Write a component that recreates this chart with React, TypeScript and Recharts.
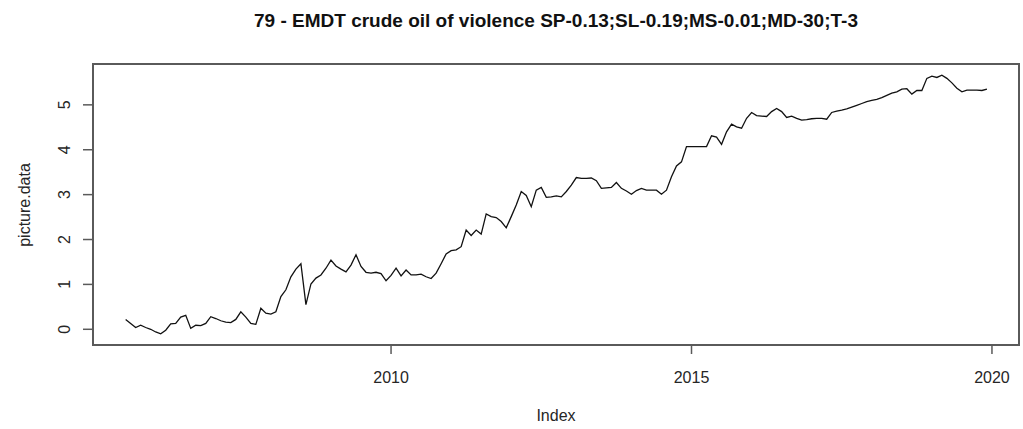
import { Line, LineChart, ReferenceArea, XAxis, YAxis } from "recharts";

// monthly values, series starts Aug 2005
const START_YEAR = 2005;
const START_MONTH = 8;

const v2005 = [0.22, 0.13, 0.04, 0.09, 0.04];
const v2006 = [0.0, -0.06, -0.1, -0.02, 0.12, 0.13, 0.27, 0.31, 0.02, 0.09, 0.08, 0.13];
const v2007 = [0.28, 0.24, 0.19, 0.16, 0.15, 0.22, 0.39, 0.27, 0.13, 0.11, 0.47, 0.36];
const v2008 = [0.34, 0.39, 0.73, 0.88, 1.17, 1.34, 1.46, 0.55, 1.01, 1.14, 1.21, 1.36];
const v2009 = [1.54, 1.41, 1.34, 1.28, 1.43, 1.66, 1.4, 1.27, 1.25, 1.27, 1.24, 1.08];
const v2010 = [1.2, 1.36, 1.19, 1.32, 1.21, 1.21, 1.23, 1.17, 1.13, 1.25, 1.46, 1.68];
const v2011 = [1.75, 1.77, 1.84, 2.21, 2.09, 2.21, 2.12, 2.57, 2.51, 2.49, 2.4, 2.26];
const v2012 = [2.51, 2.77, 3.07, 2.98, 2.73, 3.1, 3.16, 2.94, 2.95, 2.97, 2.95, 3.07];
const v2013 = [3.21, 3.38, 3.36, 3.36, 3.37, 3.31, 3.14, 3.15, 3.16, 3.27, 3.14, 3.08];
const v2014 = [3.01, 3.09, 3.14, 3.1, 3.1, 3.1, 3.01, 3.1, 3.4, 3.64, 3.73, 4.07];
const v2015 = [4.07, 4.07, 4.07, 4.07, 4.31, 4.28, 4.12, 4.4, 4.57, 4.51, 4.48, 4.7];
const v2016 = [4.83, 4.76, 4.75, 4.74, 4.85, 4.92, 4.85, 4.72, 4.75, 4.7, 4.66, 4.67];
const v2017 = [4.69, 4.7, 4.7, 4.68, 4.83, 4.86, 4.88, 4.91, 4.95, 4.99, 5.03, 5.07];
const v2018 = [5.1, 5.12, 5.16, 5.21, 5.26, 5.29, 5.35, 5.36, 5.24, 5.32, 5.32, 5.59];
const v2019 = [5.64, 5.61, 5.66, 5.59, 5.49, 5.37, 5.29, 5.33, 5.33, 5.33, 5.32, 5.35];

const xTicks = [2010, 2015, 2020];
const yTicks = [0, 1, 2, 3, 4, 5];

const TITLE = "79 - EMDT crude oil of violence SP-0.13;SL-0.19;MS-0.01;MD-30;T-3";
const X_LABEL = "Index";
const Y_LABEL = "picture.data";

const values = [
  ...v2005, ...v2006, ...v2007, ...v2008, ...v2009, ...v2010, ...v2011, ...v2012,
  ...v2013, ...v2014, ...v2015, ...v2016, ...v2017, ...v2018, ...v2019,
];

const data = values.map((value, i) => ({
  t: START_YEAR + (START_MONTH - 1 + i) / 12,
  value,
}));

const X_DOMAIN: [number, number] = [2005.04, 2020.45];
const Y_DOMAIN: [number, number] = [-0.35, 5.91];

const FONT = "'Liberation Sans', Arial, sans-serif";
const TEXT = "#262626";
const BOX = "#5a5a5a";

function XTick({ x, y, payload }: { x?: number; y?: number; payload?: { value: number } }) {
  return (
    <text x={x} y={(y ?? 0) + 27} textAnchor="middle" fill={TEXT} fontSize={16} fontFamily={FONT}>
      {payload?.value}
    </text>
  );
}

function YTick({ y, payload }: { x?: number; y?: number; payload?: { value: number } }) {
  const cx = 65;
  return (
    <text
      x={cx}
      y={y}
      transform={`rotate(-90, ${cx}, ${y})`}
      textAnchor="middle"
      dominantBaseline="central"
      fill={TEXT}
      fontSize={16}
      fontFamily={FONT}
    >
      {payload?.value}
    </text>
  );
}

export default function App() {
  return (
    <div style={{ position: "absolute", left: 0, top: 0, width: 1023, height: 429, background: "#fff" }}>
      <LineChart width={1023} height={429} data={data} margin={{ top: 64, right: 4, bottom: 0, left: 0 }}>
        <XAxis
          dataKey="t"
          type="number"
          domain={X_DOMAIN}
          ticks={xTicks}
          allowDataOverflow
          axisLine={false}
          tickLine={{ stroke: BOX, strokeWidth: 1.5 }}
          tickSize={9}
          height={84}
          tick={<XTick />}
        />
        <YAxis
          type="number"
          domain={Y_DOMAIN}
          ticks={yTicks}
          allowDataOverflow
          axisLine={false}
          tickLine={{ stroke: BOX, strokeWidth: 1.5 }}
          tickSize={10}
          width={93}
          tick={<YTick />}
        />
        <ReferenceArea
          x1={X_DOMAIN[0]}
          x2={X_DOMAIN[1]}
          y1={Y_DOMAIN[0]}
          y2={Y_DOMAIN[1]}
          fill="none"
          stroke={BOX}
          strokeWidth={2}
          ifOverflow="visible"
        />
        <Line
          type="linear"
          dataKey="value"
          stroke="#111"
          strokeWidth={1.3}
          dot={false}
          isAnimationActive={false}
        />
      </LineChart>
      <svg
        width={1023}
        height={429}
        style={{ position: "absolute", left: 0, top: 0, pointerEvents: "none" }}
      >
        <text x={556} y={27} textAnchor="middle" fontSize={19} fontWeight="bold" fontFamily={FONT} fill="#111">
          {TITLE}
        </text>
        <text x={556} y={421} textAnchor="middle" fontSize={16} fontFamily={FONT} fill={TEXT}>
          {X_LABEL}
        </text>
        <text
          x={24}
          y={205}
          transform="rotate(-90, 24, 205)"
          textAnchor="middle"
          dominantBaseline="central"
          fontSize={16}
          fontFamily={FONT}
          fill={TEXT}
        >
          {Y_LABEL}
        </text>
      </svg>
    </div>
  );
}
